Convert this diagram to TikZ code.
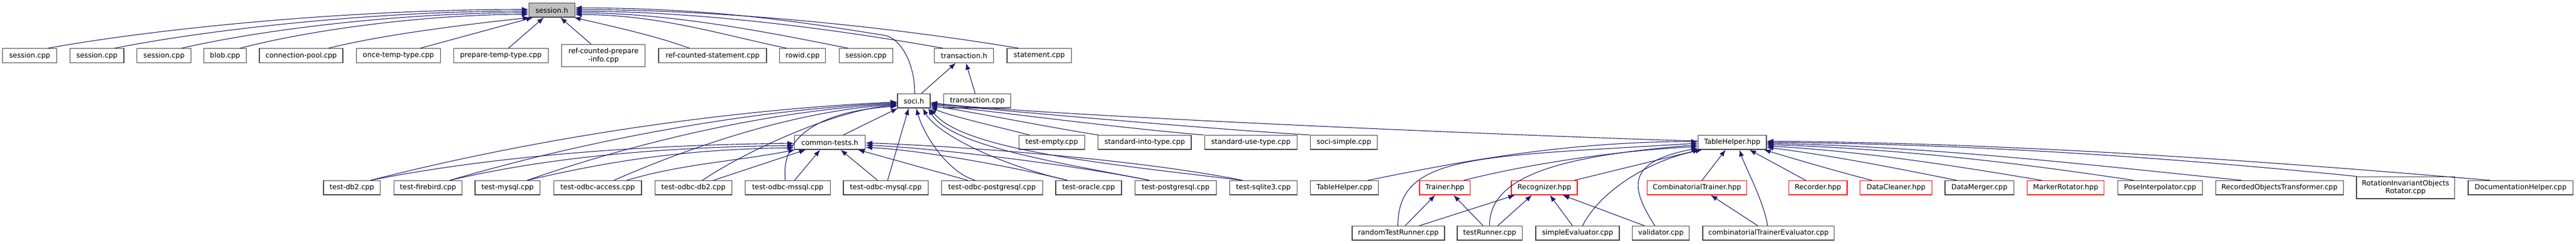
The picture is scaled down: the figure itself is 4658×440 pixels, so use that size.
\documentclass[tikz,border=0pt]{standalone}
\usepackage{fontspec}
\setmainfont{DejaVu Sans}
\usetikzlibrary{arrows.meta,calc}
\definecolor{edgeblue}{HTML}{191970}
\definecolor{boxgray}{HTML}{404040}
\definecolor{hdrfill}{HTML}{BFBFBF}
\begin{document}
\begin{tikzpicture}[x=1pt,y=-1pt,
 box/.style={draw=boxgray, line width=1.3pt, fill=white, rectangle, inner sep=0pt, minimum height=25.5pt, font=\fontsize{12.7pt}{14.3pt}\selectfont, align=center},
 redbox/.style={box, draw=red},
 dep/.style={draw=edgeblue, line width=1.1pt, -{Latex[length=12pt,width=9pt]}}]
\fill[white] (0,0) rectangle (4658,440);
\useasboundingbox (0,0) rectangle (4658,440);
% row 0
\node[box, fill=hdrfill, minimum width=83pt] (sh) at (997.8,18.35) {session.h};
% row 1
\node[box, minimum width=98pt] (s1) at (53.7,100.5) {session.cpp};
\node[box, minimum width=97.3pt] (s2) at (175.3,100.5) {session.cpp};
\node[box, minimum width=97.6pt] (s3) at (296.5,100.5) {session.cpp};
\node[box, minimum width=76.6pt] (blob) at (407,100.5) {blob.cpp};
\node[box, minimum width=151pt] (cpool) at (544.5,100.5) {connection-pool.cpp};
\node[box, minimum width=152.4pt] (once) at (720.5,100.5) {once-temp-type.cpp};
\node[box, minimum width=171pt] (prep) at (905.8,100.5) {prepare-temp-type.cpp};
\node[box, minimum width=151pt, minimum height=40.4pt] (rcpi) at (1091.2,100.5) {ref-counted-prepare\\-info.cpp};
\node[box, minimum width=195pt] (rcs) at (1288.5,100.5) {ref-counted-statement.cpp};
\node[box, minimum width=83pt] (rowid) at (1451.2,100.5) {rowid.cpp};
\node[box, minimum width=97.4pt] (s4) at (1566,100.5) {session.cpp};
\node[box, minimum width=107pt] (trh) at (1743.2,100.5) {transaction.h};
\node[box, minimum width=116.3pt] (stmt) at (1879.2,100.5) {statement.cpp};
% row 2
\node[box, minimum width=59pt] (soci) at (1652.5,182.3) {soci.h};
\node[box, minimum width=121pt] (trcpp) at (1767.2,182.3) {transaction.cpp};
% row 3
\node[box, minimum width=128.4pt] (ct) at (1500.5,257.3) {common-tests.h};
\node[box, minimum width=119pt] (tempty) at (1901.8,257.3) {test-empty.cpp};
\node[box, minimum width=168.3pt] (sinto) at (2069.8,257.3) {standard-into-type.cpp};
\node[box, minimum width=167pt] (suse) at (2261.8,257.3) {standard-use-type.cpp};
\node[box, minimum width=121.4pt] (ssimple) at (2430,257.3) {soci-simple.cpp};
\node[box, minimum width=123.3pt] (thpp) at (3132.3,257.3) {TableHelper.hpp};
% row 4
\node[box, minimum width=102.7pt] (tdb2) at (636.3,339.3) {test-db2.cpp};
\node[box, minimum width=122.6pt] (tfire) at (774,339.3) {test-firebird.cpp};
\node[box, minimum width=117.7pt] (tmysql) at (917.8,339.3) {test-mysql.cpp};
\node[box, minimum width=158.7pt] (toacc) at (1080.7,339.3) {test-odbc-access.cpp};
\node[box, minimum width=139pt] (todb2) at (1253.8,339.3) {test-odbc-db2.cpp};
\node[box, minimum width=153.6pt] (tomssql) at (1424.5,339.3) {test-odbc-mssql.cpp};
\node[box, minimum width=153.7pt] (tomysql) at (1601.8,339.3) {test-odbc-mysql.cpp};
\node[box, minimum width=183pt] (topg) at (1793.8,339.3) {test-odbc-postgresql.cpp};
\node[box, minimum width=119pt] (tora) at (1968.5,339.3) {test-oracle.cpp};
\node[box, minimum width=147pt] (tpg) at (2125.8,339.3) {test-postgresql.cpp};
\node[box, minimum width=121.6pt] (tsql) at (2284.5,339.3) {test-sqlite3.cpp};
\node[box, minimum width=122.6pt] (thcpp) at (2431,339.3) {TableHelper.cpp};
\node[redbox, minimum width=91.3pt] (trainer) at (2612.7,339.3) {Trainer.hpp};
\node[redbox, minimum width=119pt] (recog) at (2792.5,339.3) {Recognizer.hpp};
\node[redbox, minimum width=180.4pt] (comb) at (3068.5,339.3) {CombinatorialTrainer.hpp};
\node[redbox, minimum width=105.7pt] (recorder) at (3287.2,339.3) {Recorder.hpp};
\node[redbox, minimum width=129.6pt] (dclean) at (3428.5,339.3) {DataCleaner.hpp};
\node[box, minimum width=124.3pt] (dmerge) at (3579.2,339.3) {DataMerger.cpp};
\node[redbox, minimum width=139pt] (mrot) at (3735.2,339.3) {MarkerRotator.hpp};
\node[box, minimum width=153.4pt] (pose) at (3906,339.3) {PoseInterpolator.cpp};
\node[box, minimum width=231pt] (rot) at (4121.8,339.3) {RecordedObjectsTransformer.cpp};
\node[box, minimum width=177.7pt, minimum height=39.7pt] (rior) at (4349.8,339.2) {RotationInvariantObjects\\Rotator.cpp};
\node[box, minimum width=189.7pt] (doch) at (4557.8,339.3) {DocumentationHelper.cpp};
% row 5
\node[box, minimum width=167pt] (rtr) at (2528.5,421.3) {randomTestRunner.cpp};
\node[box, minimum width=117.7pt] (tr) at (2693.8,421.3) {testRunner.cpp};
\node[box, minimum width=151pt] (se) at (2852.5,421.3) {simpleEvaluator.cpp};
\node[box, minimum width=103pt] (val) at (3003.2,421.3) {validator.cpp};
\node[box, minimum width=237.7pt] (cte) at (3197.8,421.3) {combinatorialTrainerEvaluator.cpp};
% ---- edges to session.h
\draw[dep] ($(s1.north)+(33,0)$) .. controls +(217,-39) and +(-304,0) .. ($(sh.west)+(0,-1.35)$);
\draw[dep] ($(s2.north)+(32,0)$) .. controls +(187,-37) and +(-262,0) .. ($(sh.west)+(0,1.65)$);
\draw[dep] ($(s3.north)+(31.8,0)$) .. controls +(157,-36) and +(-220,0) .. ($(sh.west)+(0,4.65)$);
\draw[dep] ($(blob.north)+(27.3,0)$) .. controls +(130,-34) and +(-183,0) .. ($(sh.west)+(0,7.65)$);
\draw[dep] ($(cpool.north)+(49.5,0)$) .. controls +(100,-25) and +(-110,12) .. ($(sh.south west)+(1.5,0)$);
\draw[dep] ($(once.north)+(39.5,0)$) -- ($(sh.south west)+(8,0)$);
\draw[dep] ($(prep.north)+(13.5,0)$) -- ($(sh.south)+(-14.5,0)$);
\draw[dep] ($(rcpi.north)+(-22.5,0)$) -- ($(sh.south)+(15.5,0)$);
\draw[dep] ($(rcs.north)+(-41.8,0)$) .. controls +(-60,-22) and +(70,16) .. ($(sh.south east)+(-2,0)$);
\draw[dep] ($(rowid.north)+(-28.9,0)$) .. controls +(-120,-25) and +(150,0) .. ($(sh.east)+(0,8)$);
\draw[dep] ($(s4.north)+(-32.7,0)$) .. controls +(-140,-28) and +(173,0) .. ($(sh.east)+(0,5)$);
\draw[dep] ($(trh.north)+(-38.2,0)$) .. controls +(-180,-32) and +(233,0) .. ($(sh.east)+(0,2)$);
\draw[dep] ($(stmt.north)+(-37.5,0)$) .. controls +(-210,-35) and +(281,0) .. ($(sh.east)+(0,-1)$);
\coordinate (sociknee) at (1600,64);
\draw[dep] ($(soci.north)+(1.5,0)$) .. controls +(0,-60) and +(25,4) .. (sociknee) .. controls +(-150,-24) and +(250,0) .. ($(sh.east)+(0,-4)$);
% ---- transaction.h
\draw[dep] ($(soci.north)+(13.5,0)$) -- ($(trh.south)+(-15,0)$);
\draw[dep] ($(trcpp.north)+(-3.9,0)$) -- ($(trh.south)+(3.5,0)$);
% ---- soci.h
\draw[dep] ($(ct.north)+(24.5,0)$) -- ($(soci.south west)+(1,0)$);
\draw[dep] ($(tdb2.north)+(33.7,0)$) .. controls +(305,-78) and +(-305,14) .. ($(soci.west)+(0,2)$);
\draw[dep] ($(tfire.north)+(39.3,0)$) .. controls +(260,-76) and +(-260,13) .. ($(soci.west)+(0,3.5)$);
\draw[dep] ($(tmysql.north)+(35.5,0)$) .. controls +(215,-75) and +(-215,12) .. ($(soci.west)+(0,5)$);
\draw[dep] ($(toacc.north)+(29.3,0)$) .. controls +(165,-72) and +(-165,10) .. ($(soci.west)+(0,6.5)$);
\draw[dep] ($(todb2.north)+(16.2,0)$) .. controls +(90,-60) and +(-100,6) .. ($(soci.west)+(0,8)$);
\draw[dep] ($(tomssql.north)+(-4.5,0)$) .. controls +(-10,-90) and +(-120,8) .. ($(soci.west)+(0,9.5)$);
\draw[dep] ($(tomysql.north)+(3.2,0)$) -- ($(soci.south)+(-9.5,0)$);
\draw[dep] ($(topg.north)+(-30.5,0)$) .. controls +(-50,-15) and +(15,50) .. ($(soci.south)+(4,0)$);
\draw[dep] ($(tora.north)+(-38.5,0)$) .. controls +(-130,-30) and +(25,45) .. ($(soci.south)+(16,0)$);
\draw[dep] ($(tpg.north)+(-47.5,0)$) .. controls +(-150,-30) and +(40,70) .. ($(soci.south)+(26,0)$);
\draw[dep] ($(tsql.north)+(-37.8,0)$) .. controls +(-250,-30) and +(60,75) .. ($(soci.south east)+(-1,0)$);
\draw[dep] ($(tempty.north)+(-40,0)$) .. controls +(-60,-15) and +(30,15) .. ($(soci.east)+(0,11)$);
\draw[dep] ($(sinto.north)+(-84,0)$) .. controls +(-80,-12) and +(60,8) .. ($(soci.east)+(0,9)$);
\draw[dep] ($(suse.north)+(-85.1,0)$) .. controls +(-150,-12) and +(80,8) .. ($(soci.east)+(0,7)$);
\draw[dep] ($(ssimple.north)+(-61.7,0)$) .. controls +(-200,-12) and +(100,10) .. ($(soci.east)+(0,5)$);
\draw[dep] ($(thpp.west)+(0,-2.3)$) .. controls +(-400,-12) and +(150,20) .. ($(soci.east)+(0,3)$);
% ---- common-tests.h
\draw[dep] ($(tdb2.north)+(33.7,0)$) .. controls +(200,-40) and +(-300,3) .. ($(ct.west)+(0,1.7)$);
\draw[dep] ($(tfire.north)+(39.3,0)$) .. controls +(170,-40) and +(-250,3) .. ($(ct.west)+(0,5.7)$);
\draw[dep] ($(tmysql.north)+(35.5,0)$) .. controls +(150,-35) and +(-200,3) .. ($(ct.west)+(0,9.7)$);
\draw[dep] ($(toacc.north)+(52.6,0)$) .. controls +(100,-30) and +(-100,20) .. ($(ct.south west)+(2,0)$);
\draw[dep] ($(todb2.north)+(36.2,0)$) -- ($(ct.south)+(-43.5,0)$);
\draw[dep] ($(tomssql.north)+(12.2,0)$) -- ($(ct.south)+(-17.5,0)$);
\draw[dep] ($(tomysql.north)+(-15,0)$) -- ($(ct.south)+(19.5,0)$);
\draw[dep] ($(topg.north)+(-43.8,0)$) -- ($(ct.south east)+(-14,0)$);
\draw[dep] ($(tora.north)+(-38.5,0)$) .. controls +(-100,-25) and +(100,5) .. ($(ct.east)+(0,9)$);
\draw[dep] ($(tpg.north)+(-47.5,0)$) .. controls +(-150,-30) and +(120,5) .. ($(ct.east)+(0,5)$);
\draw[dep] ($(tsql.north)+(-37.8,0)$) .. controls +(-200,-40) and +(150,5) .. ($(ct.east)+(0,1)$);
% ---- TableHelper.hpp
\draw[dep] ($(thcpp.north)+(42.3,0)$) .. controls +(150,-30) and +(-250,0) .. ($(thpp.west)+(0,-1.5)$);
\draw[dep] ($(rtr.north)+(-0.8,0)$) .. controls +(0,-130) and +(-400,25) .. ($(thpp.west)+(0,1.5)$);
\draw[dep] ($(tr.north)+(-0.5,0)$) .. controls +(0,-90) and +(-250,20) .. ($(thpp.west)+(0,4.5)$);
\draw[dep] ($(trainer.north)+(34,0)$) .. controls +(120,-30) and +(-150,8) .. ($(thpp.west)+(0,7.5)$);
\draw[dep] ($(val.north)+(-10.9,0)$) .. controls +(-45,-70) and +(-130,25) .. ($(thpp.west)+(0,10.5)$);
\draw[dep] ($(recog.north)+(54.2,0)$) -- ($(thpp.south west)+(3,0)$);
\draw[dep] ($(se.north)+(9.2,0)$) .. controls +(30,-60) and +(-100,20) .. ($(thpp.south west)+(8,0)$);
\draw[dep] ($(comb.north)+(9.2,0)$) -- ($(thpp.south)+(-12,0)$);
\draw[dep] ($(cte.north)+(-1.8,0)$) .. controls +(-5,-40) and +(10,30) .. ($(thpp.south)+(13,0)$);
\draw[dep] ($(recorder.north)+(-22.2,0)$) -- ($(thpp.south)+(31,0)$);
\draw[dep] ($(dclean.north)+(-43.5,0)$) .. controls +(-60,-15) and +(50,15) .. ($(thpp.south east)+(-5,0)$);
\draw[dep] ($(dmerge.north)+(-40.9,0)$) .. controls +(-100,-20) and +(120,15) .. ($(thpp.east)+(0,9)$);
\draw[dep] ($(mrot.north)+(-43.5,0)$) .. controls +(-150,-25) and +(180,10) .. ($(thpp.east)+(0,6.5)$);
\draw[dep] ($(pose.north)+(-47.7,0)$) .. controls +(-200,-30) and +(250,8) .. ($(thpp.east)+(0,4)$);
\draw[dep] ($(rot.north)+(-68.5,0)$) .. controls +(-250,-25) and +(300,5) .. ($(thpp.east)+(0,2)$);
\draw[dep] ($(rior.north)+(-88.8,0)$) .. controls +(-300,-30) and +(400,3) .. ($(thpp.east)+(0,0)$);
\draw[dep] ($(doch.north)+(-54.8,0)$) .. controls +(-300,-25) and +(500,3) .. ($(thpp.east)+(0,-2)$);
% ---- Trainer, Recognizer, CombinatorialTrainer
\draw[dep] ($(rtr.north)+(12.5,0)$) -- ($(trainer.south)+(-17.7,0)$);
\draw[dep] ($(tr.north)+(-12.1,0)$) -- ($(trainer.south)+(15.6,0)$);
\draw[dep] ($(rtr.north)+(38.2,0)$) -- ($(recog.south west)+(7,0)$);
\draw[dep] ($(tr.north)+(14.5,0)$) -- ($(recog.south)+(-22.5,0)$);
\draw[dep] ($(se.north)+(-9.2,0)$) -- ($(recog.south)+(10,0)$);
\draw[dep] ($(val.north)+(-29.9,0)$) -- ($(recog.south)+(33,0)$);
\draw[dep] ($(cte.north)+(-19.5,0)$) -- ($(comb.south)+(25,0)$);
\end{tikzpicture}
\end{document}
